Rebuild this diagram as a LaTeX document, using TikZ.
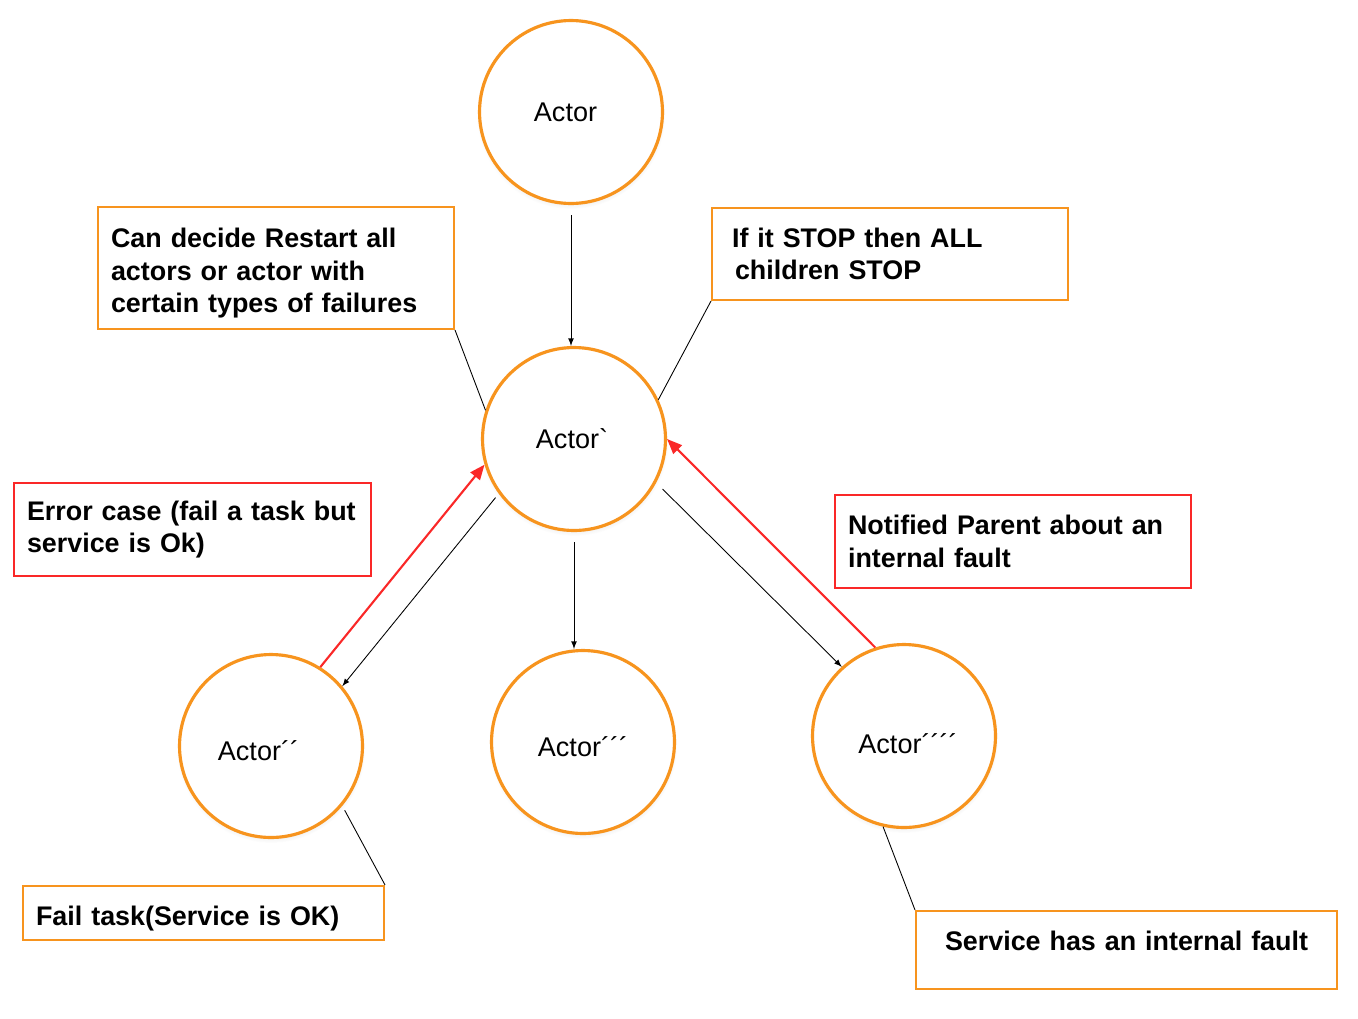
\documentclass[tikz,border=0pt]{standalone}
\usepackage{fontspec}
\setmainfont{Liberation Sans}
\newfontfamily\actorfont{Liberation Sans}
\usepackage{tikz}
\usetikzlibrary{shapes,arrows,arrows.meta,shadows}
\usetikzlibrary{positioning}

\definecolor{actororange}{RGB}{247,148,30}
\definecolor{faultred}{RGB}{250,40,40}

\tikzset{
 actor/.style={circle, draw=actororange, fill=white, line width=1.8pt, minimum size=3.66cm, inner sep=0pt,
   circular drop shadow={shadow xshift=0pt, shadow yshift=-1.5pt, shadow scale=1.03, opacity=0.25},
   font=\actorfont\fontsize{15.4}{18.5}\selectfont},
 notebox/.style={rectangle, draw=actororange, line width=1.2pt, align=left, font=\fontsize{15.3}{18.5}\selectfont\bfseries},
 faultbox/.style={notebox, draw=faultred, line width=1.4pt},
 msg/.style={-latex, black, line width=0.5pt},
 report/.style={-{Triangle[length=0.3cm,width=0.24cm]}, faultred, line width=1.2pt},
 link/.style={black, line width=0.5pt}
}

\begin{document}
\begin{tikzpicture}[x=0.02cm, y=-0.02cm]
 \useasboundingbox (0,0) rectangle (1358,1018);

 \node[actor] (root) at (571,112) {\hspace*{-0.22cm}Actor};
 \node[actor] (parent) at (574,439) {\hspace*{-0.08cm}Actor`};
 \node[actor] (childa) at (271,746) {\hspace*{-0.5cm}\rule{0pt}{16.7pt}Actor´´};
 \node[actor] (childb) at (583,742) {\rule{0pt}{16.7pt}Actor´´´};
 \node[actor] (childc) at (904,736) {\hspace*{0.16cm}\rule{0pt}{20pt}Actor´´´´};

 \node[notebox, text width=6.6cm, inner xsep=0.26cm, minimum height=2.44cm] (restartnote) at (276,268) {\rule{0pt}{17pt}Can decide Restart all\\actors or actor with\\certain types of failures};
 \node[notebox, text width=6.32cm, inner xsep=0.4cm, minimum height=1.84cm] (stopnote) at (890,254) {If it STOP then ALL\\\hspace*{0.06cm}children STOP};
 \node[faultbox, text width=6.62cm, inner xsep=0.26cm, minimum height=1.86cm] (errornote) at (192.5,529.5) {Error case (fail a task but\\service is Ok)};
 \node[faultbox, text width=6.6cm, inner xsep=0.26cm, minimum height=1.86cm] (notifynote) at (1013,541.5) {Notified Parent about an\\internal fault};
 \node[notebox, text width=6.7cm, inner xsep=0.26cm, minimum height=1.08cm] (failnote) at (203.5,913) {\rule{0pt}{17pt}Fail task(Service is OK)};
 \node[notebox, text width=7.82cm, inner xsep=0.3cm, minimum height=1.56cm, align=center] (faultnote) at (1126.5,950) {Service has an internal fault\rule[-10.2pt]{0pt}{0pt}};

 \draw[msg, shorten <=0.2cm] (root.south) -- (root.south |- parent.north);
 \draw[msg, shorten <=0.2cm] (parent.south) -- (parent.south |- childb.north);
 \draw[report] (childa.58) -- (parent.196);
 \draw[msg, shorten <=0.1cm] (parent.216) -- (childa.40);
 \draw[msg, shorten <=0.18cm] (parent.-28) -- (childc.132);
 \draw[report] (childc.108) -- (parent.0);

 \draw[link] (restartnote.south east) -- (parent.162);
 \draw[link] (stopnote.south west) -- (parent.25);
 \draw[link, shorten <=0.1cm] (childa.-40) -- (failnote.north east);
 \draw[link] (childc.257) -- (faultnote.north west);
\end{tikzpicture}
\end{document}
